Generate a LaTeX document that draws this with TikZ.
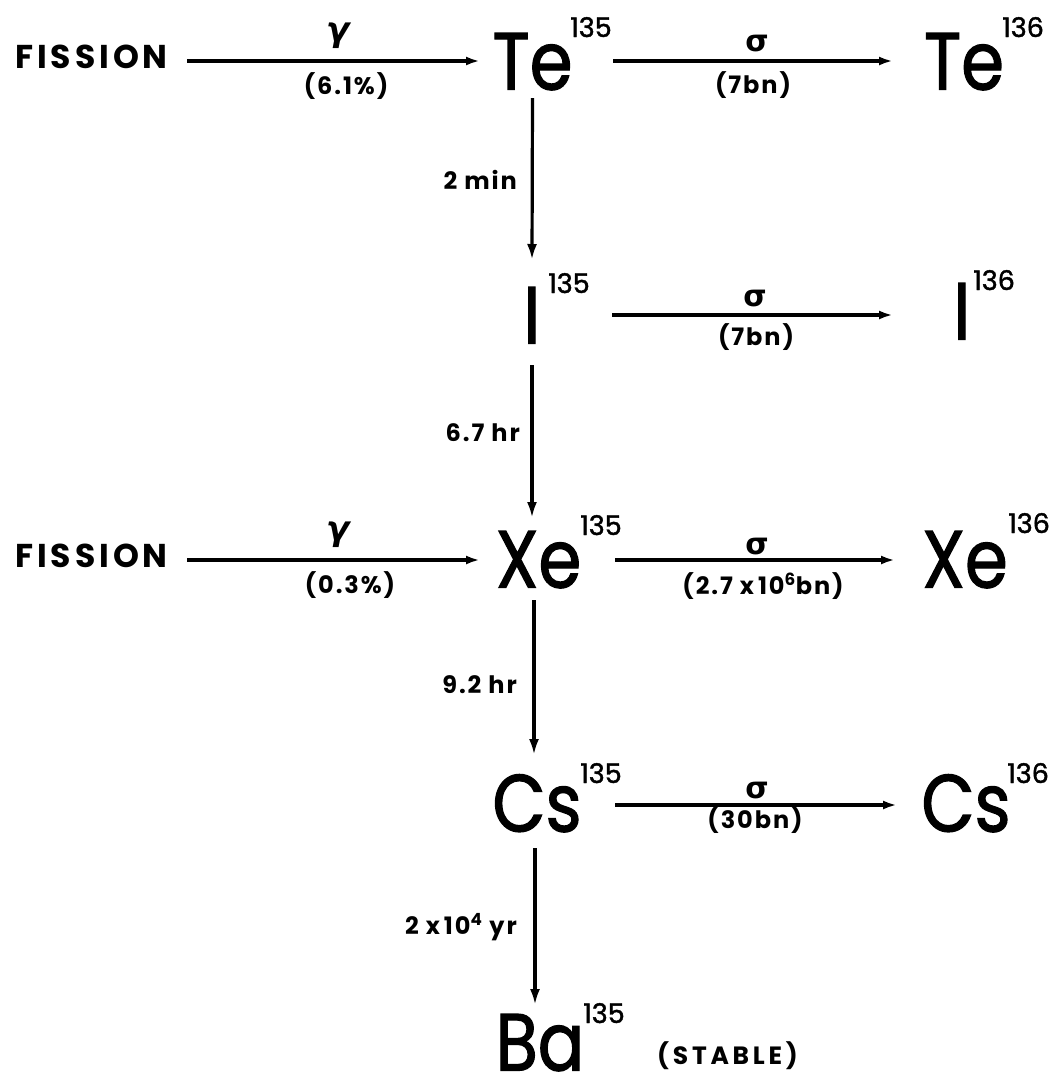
\documentclass[tikz,border=0pt]{standalone}
\usepackage{fontspec}
\setmainfont{Poppins}
\newfontfamily\elfont{Poppins}[FakeStretch=0.85,FakeBold=1.5]
\newfontfamily\supfont{Poppins}[FakeBold=1.5]
\newfontfamily\grk{DejaVu Sans}
\usetikzlibrary{arrows.meta}
\begin{document}
\begin{tikzpicture}[x=1pt,y=-1pt,
  el/.style={font=\elfont\fontsize{81pt}{81pt}\selectfont, inner sep=0pt, text height=57pt, text depth=0pt},
  sup/.style={font=\supfont\fontsize{27pt}{27pt}\selectfont, inner sep=0pt, anchor=base west},
  lab/.style={font=\bfseries\fontsize{24pt}{24pt}\selectfont\addfontfeature{LetterSpace=8}, inner sep=0pt},
  fis/.style={font=\bfseries\fontsize{33pt}{33pt}\selectfont\addfontfeature{LetterSpace=12}, inner sep=0pt, anchor=east},
  gam/.style={font=\grk\bfseries\itshape\fontsize{34pt}{34pt}\selectfont, inner sep=0pt},
  sig/.style={font=\grk\bfseries\fontsize{30pt}{30pt}\selectfont, inner sep=0pt},
  harr/.style={line width=3.6pt, -{Latex[length=14pt,width=9pt]}},
  varr/.style={line width=3.2pt, -{Latex[length=16pt,width=10pt]}}
]
\useasboundingbox[fill=white] (0,0) rectangle (1061,1080);

% element symbols
\node[el] (te5) at (532.5,61) {Te};
\node[el] (te6) at (964,61) {Te};
\node[el] (i5) at (532,315) {I};
\node[el] (i6) at (962,311) {I};
\node[el] (xe5) at (538.5,559) {Xe};
\node[el] (xe6) at (965,559) {Xe};
\node[el] (cs5) at (537,803) {Cs};
\node[el] (cs6) at (966,803) {Cs};
\node[el] (ba5) at (540,1042) {Ba};

% mass numbers
\node[sup] (te5s) at (570,37) {135};
\node[sup] (te6s) at (1002,37) {136};
\node[sup] (i5s) at (548,293) {135};
\node[sup] (i6s) at (973,290) {136};
\node[sup] (xe5s) at (580,535) {135};
\node[sup] (xe6s) at (1008,533) {136};
\node[sup] (cs5s) at (580,783) {135};
\node[sup] (cs6s) at (1007,783) {136};
\node[sup] (ba5s) at (583,1023) {135};
\node[inner sep=0pt, anchor=west, font=\bfseries\fontsize{25pt}{25pt}\selectfont\addfontfeature{LetterSpace=15}] (stable) at (657,1056) {(STABLE)};

% fission sources
\node[fis] (fis1) at (168,56.5) {FISSION};
\node[fis] (fis2) at (168,555.5) {FISSION};

% horizontal connectors
\draw[harr] ([xshift=19pt,yshift=-4.5pt]fis1.east) -- ([xshift=-52.5pt]te5.center);
\draw[harr] ([xshift=80.5pt]te5.center) -- ([xshift=-71pt]te6.center);
\draw[harr] ([xshift=80pt]i5.center) -- ([xshift=-69pt,yshift=-4pt]i6.center);
\draw[harr] ([xshift=19pt,yshift=-4.5pt]fis2.east) -- ([xshift=-58.5pt,yshift=-1pt]xe5.center);
\draw[harr] ([xshift=76.5pt,yshift=-1pt]xe5.center) -- ([xshift=-70pt,yshift=-1pt]xe6.center);
\draw[harr] ([xshift=78pt,yshift=-2pt]cs5.center) -- ([xshift=-69pt,yshift=-2pt]cs6.center);

% vertical connectors
\draw[varr] ([yshift=-37pt]te5.center) -- ([yshift=55pt]i5.center);
\draw[varr] ([yshift=-50pt]i5.center) -- ([xshift=-6.5pt,yshift=41pt]xe5.center);
\draw[varr] ([xshift=-4.5pt,yshift=-41pt]xe5.center) -- ([xshift=-3pt,yshift=48pt]cs5.center);
\draw[varr] ([xshift=-2pt,yshift=-45pt]cs5.center) -- ([xshift=-5pt,yshift=37pt]ba5.center);

% arrow labels
\node[gam] (g1) at (338,36) {γ};
\node[lab] (p1) at (346,86) {(6.1\%)};
\node[sig] (s1) at (757,44) {σ};
\node[lab] (b1) at (753,85) {(7bn)};
\node[sig] (s2) at (755,299) {σ};
\node[lab] (b2) at (756,337) {(7bn)};
\node[gam] (g2) at (338,535) {γ};
\node[lab] (p2) at (350,585) {(0.3\%)};
\node[sig] (s3) at (757,546) {σ};
\node[lab] (b3) at (763,586) {(2.7 x\,10\textsuperscript{6}bn)};
\node[sig] (s4) at (757,790) {σ};
\node[lab] (b4) at (755,820) {(30bn)};

\node[lab, anchor=east] (t1) at (517,180) {2 min};
\node[lab, anchor=east] (t2) at (520,433) {6.7 hr};
\node[lab, anchor=east] (t3) at (517,685) {9.2 hr};
\node[lab, anchor=east] (t4) at (517,927) {2 x\,10\textsuperscript{4} yr};
\end{tikzpicture}
\end{document}
